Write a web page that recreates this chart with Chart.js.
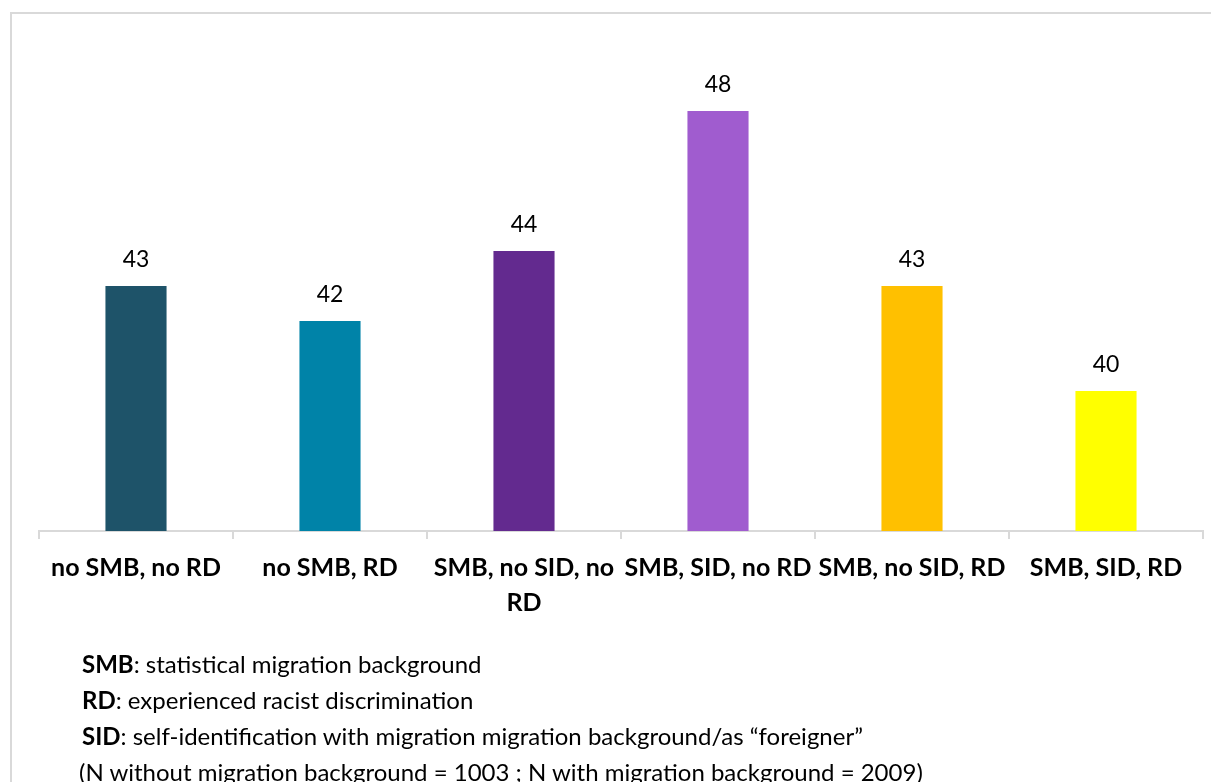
<!DOCTYPE html>
<html>
<head>
<meta charset="utf-8">
<script src="https://cdn.jsdelivr.net/npm/chart.js@4"></script>
<style>
  html, body { margin: 0; padding: 0; background: #fff; }
  #wrap { position: relative; width: 1211px; height: 782px; overflow: hidden; }
  #frame {
    position: absolute; left: 10px; top: 12px; width: 1300px; height: 900px;
    border-left: 2px solid #d9d9d9; border-top: 2px solid #d9d9d9;
  }
  #chart { position: absolute; left: 0; top: 0; }
  #notes {
    position: absolute; left: 82px; top: 646px;
    font-family: Lato, "Open Sans", sans-serif; font-size: 24px; line-height: 36px; color: #000;
    white-space: nowrap;
  }
  #notes .paren { margin-left: -3px; }
</style>
</head>
<body>
<div id="wrap">
  <div id="frame"></div>
  <canvas id="chart" width="1211" height="782"></canvas>
  <div id="notes">
    <div><b>SMB</b>: statistical migration background</div>
    <div><b>RD</b>: experienced racist discrimination</div>
    <div><b>SID</b>: self-identification with migration migration background/as “foreigner”</div>
    <div class="paren">(N without migration background = 1003 ; N with migration background = 2009)</div>
  </div>
</div>
<script>
// categories (multi-line where the axis wraps them)
const categories = [
  'no SMB, no RD',
  'no SMB, RD',
  ['SMB, no SID, no', 'RD'],
  'SMB, SID, no RD',
  'SMB, no SID, RD',
  'SMB, SID, RD'
];
const values = [43, 42, 44, 48, 43, 40];
const barColors = ['#1E5369', '#0083A8', '#632A8F', '#A05CCF', '#FFC000', '#FFFF00'];

// value labels above each bar
const valueLabels = {
  id: 'valueLabels',
  afterDatasetsDraw(chart) {
    const ctx = chart.ctx;
    const meta = chart.getDatasetMeta(0);
    ctx.save();
    ctx.font = '23px Lato, "Open Sans", sans-serif';
    ctx.fillStyle = '#000';
    ctx.textAlign = 'center';
    ctx.textBaseline = 'alphabetic';
    meta.data.forEach((bar, i) => {
      ctx.fillText(String(values[i]), bar.x, bar.y - 19);
    });
    ctx.restore();
  }
};

new Chart(document.getElementById('chart'), {
  type: 'bar',
  data: {
    labels: categories,
    datasets: [{
      data: values,
      backgroundColor: barColors,
      borderWidth: 0,
      barPercentage: 0.315,
      categoryPercentage: 1
    }]
  },
  options: {
    responsive: false,
    animation: false,
    layout: { padding: { left: 39, right: 8, top: 41, bottom: 0 } },
    plugins: {
      legend: { display: false },
      tooltip: { enabled: false }
    },
    scales: {
      x: {
        grid: {
          offset: true,
          drawOnChartArea: false,
          drawTicks: true,
          tickLength: 8,
          color: '#d9d9d9',
          lineWidth: 2
        },
        border: { display: true, color: '#d9d9d9', width: 2 },
        ticks: {
          color: '#000',
          padding: 11,
          maxRotation: 0,
          autoSkip: false,
          font: { family: 'Lato, "Open Sans", sans-serif', size: 25, weight: 'bold', lineHeight: 1.4 }
        },
        afterFit(scale) { scale.height = 251; }
      },
      y: {
        display: false,
        min: 36,
        max: 50
      }
    }
  },
  plugins: [valueLabels]
});
</script>
</body>
</html>
